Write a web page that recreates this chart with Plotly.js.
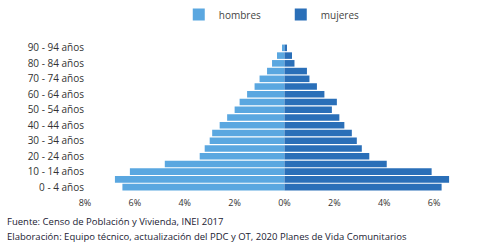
<!DOCTYPE html>
<html>
<head>
<meta charset="utf-8">
<script src="https://cdn.plot.ly/plotly-3.0.1.min.js"></script>
<style>html,body{margin:0;padding:0;background:#fff;}#chart{width:484px;height:250px;}</style>
</head>
<body>
<div id="chart"></div>
<script>
var ageGroups = ["0 - 4 años","5 - 9 años","10 - 14 años","15 - 19 años","20 - 24 años","25 - 29 años","30 - 34 años","35 - 39 años","40 - 44 años","45 - 49 años","50 - 54 años","55 - 59 años","60 - 64 años","65 - 69 años","70 - 74 años","75 - 79 años","80 - 84 años","85 - 89 años","90 - 94 años"];
var hombres = [6.5, 6.8, 6.2, 4.8, 3.4, 3.2, 3.0, 2.9, 2.6, 2.3, 2.0, 1.8, 1.5, 1.2, 1.0, 0.7, 0.5, 0.3, 0.1];
var mujeres = [6.3, 6.6, 5.9, 4.1, 3.4, 3.1, 2.9, 2.7, 2.4, 2.2, 1.9, 2.1, 1.6, 1.3, 1.0, 0.9, 0.4, 0.3, 0.1];
var tickVals = [-8, -6, -4, -2, 0, 2, 4, 6, 8];
var tickText = ["8%", "6%", "4%", "2%", "0%", "2%", "4%", "6%", "8%"];
var yTickVals = ["0 - 4 años","10 - 14 años","20 - 24 años","30 - 34 años","40 - 44 años","50 - 54 años","60 - 64 años","70 - 74 años","80 - 84 años","90 - 94 años"];
var yTickText = ["0 - 4 años","10 - 14 años","20 - 24 años","30 - 34 años","40 - 44 años","50 - 54 años","60 - 64 años","70 - 74 años","80 - 84 años","90 - 94 años"];
var sourceLines = ["Fuente: Censo de Población y Vivienda, INEI 2017",
                   "Elaboración: Equipo técnico, actualización del PDC y OT, 2020 Planes de Vida Comunitarios"];

var traces = [
  {type: "bar", orientation: "h", name: "hombres", y: ageGroups,
   x: hombres.map(function(v){return -v;}),
   marker: {color: "#5aa7e0"}, hoverinfo: "skip"},
  {type: "bar", orientation: "h", name: "mujeres", y: ageGroups,
   x: mujeres,
   marker: {color: "#2a6fb8"}, hoverinfo: "skip"}
];

var layout = {
  width: 484, height: 250,
  margin: {l: 85, r: 0, t: 44, b: 59},
  paper_bgcolor: "#ffffff", plot_bgcolor: "#ffffff",
  barmode: "overlay", bargap: 0.15,
  font: {family: "Open Sans, sans-serif", color: "#333", size: 10},
  showlegend: true,
  legend: {orientation: "h", x: 0.235, xanchor: "left", y: 1.2, yanchor: "middle",
           font: {size: 10, color: "#444"}, itemwidth: 30, entrywidth: 57, entrywidthmode: "pixels"},
  xaxis: {range: [-8, 8], tickvals: tickVals, ticktext: tickText, showgrid: false,
          zeroline: false, showline: false, ticks: "", ticklabelstandoff: 5,
          tickfont: {size: 9, color: "#333"}},
  yaxis: {type: "category", categoryorder: "array", categoryarray: ageGroups,
          tickvals: yTickVals, ticktext: yTickText, showgrid: false, zeroline: false,
          showline: false, ticks: "", tickfont: {size: 10, color: "#333"}, automargin: false},
  annotations: [
    {xref: "paper", yref: "paper", x: -0.2, y: -0.21, xanchor: "left", yanchor: "middle",
     text: sourceLines[0], showarrow: false, font: {size: 9.5, color: "#1a1a33"}},
    {xref: "paper", yref: "paper", x: -0.2, y: -0.31, xanchor: "left", yanchor: "middle",
     text: sourceLines[1], showarrow: false, font: {size: 9.5, color: "#1a1a33"}}
  ]
};

Plotly.newPlot("chart", traces, layout, {displayModeBar: false, staticPlot: true});
</script>
</body>
</html>
